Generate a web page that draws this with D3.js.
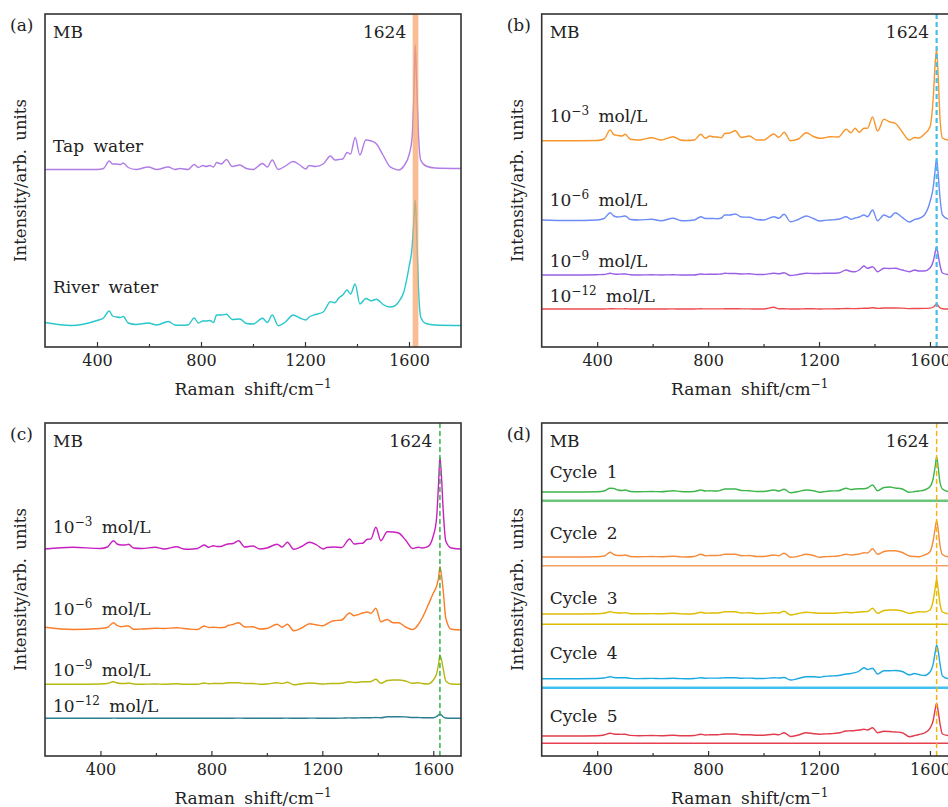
<!DOCTYPE html>
<html>
<head>
<meta charset="utf-8">
<script src="https://cdn.jsdelivr.net/npm/d3@7"></script>
<style>
  body { margin: 0; background: #fff; }
  svg text { font-family: "DejaVu Serif", "Liberation Serif", serif; fill: #222; }
</style>
</head>
<body>
<svg id="chart" width="948" height="807"></svg>
<script>
// Raman shift grid (cm^-1), shared by every spectrum
const shift = [200, 300, 400, 425, 447, 460, 475, 490, 501, 520,
  550, 597, 630, 674, 700, 719, 750, 774, 790, 807,
  820, 834, 848, 860, 878, 898, 920, 949, 975, 1000,
  1037, 1055, 1074, 1097, 1125, 1154, 1180, 1203, 1216, 1240,
  1270, 1298, 1315, 1330, 1345, 1362, 1375, 1393, 1411, 1434,
  1455, 1475, 1500, 1526, 1545, 1560, 1580, 1600, 1612, 1619,
  1624, 1629, 1636, 1645, 1665, 1700, 1800];

const xTicks = [400, 800, 1200, 1600];
const xMinorTicks = [600, 1000, 1400];

// (a) real water samples (offset intensities, arb. units)
const tapWater = [177.5, 177.5, 177.5, 178.5, 186, 183, 183, 182.5, 184, 179.5,
  177.5, 180, 177.5, 180, 177.5, 178.5, 177.5, 182.5, 179.5, 181.5,
  180.5, 181.5, 180, 184.5, 183, 187.5, 180.5, 182, 178.5, 177.5,
  183.5, 180, 187, 177.5, 181, 185.5, 182, 178, 181.5, 180.5,
  183, 191, 187, 187.5, 188, 194.5, 193, 209.5, 192, 207,
  206, 203, 192, 180.5, 178, 177, 181, 192, 210, 255,
  302, 268, 215, 187, 181, 179, 178.5];
const riverWater = [24.5, 21.5, 26.5, 29, 36, 31, 30, 29.5, 30.5, 24,
  22.5, 24, 22, 25.5, 22, 21.7, 22, 29, 24, 26,
  26, 26.5, 24.5, 32, 32, 32.7, 27.5, 28, 23.5, 23,
  28.7, 24.5, 32, 21.3, 25, 32, 29, 27, 30, 32.5,
  35, 45.3, 44.3, 49, 52, 57, 53, 63, 43, 48.5,
  46.3, 47.7, 42.5, 40, 41, 45, 55, 80, 100, 128,
  147, 118, 62, 30, 23.5, 22, 21.5];

// (b) concentration series
const bConc3 = [206.3, 206.3, 206.5, 208, 217, 212.5, 211.5, 211, 212.7, 207.7,
  207, 209.3, 207, 210.3, 207, 206.5, 207, 212.7, 208.7, 211,
  210, 210, 209.3, 213.5, 214, 216.3, 209.5, 211, 207, 207,
  213, 209.7, 214.7, 206.3, 208, 214.3, 210.5, 208.7, 209, 210.3,
  210, 217.7, 214.3, 218.7, 214.7, 218.7, 218.7, 230, 216, 227.7,
  225, 223.7, 215, 207, 209.5, 209, 213, 220, 250, 285,
  297.7, 275, 230, 209, 207, 206.5, 206.5];
const bConc6 = [127, 126.5, 127, 128.5, 134.3, 131, 130, 130.5, 131, 127.5,
  127, 127.7, 126.3, 128.7, 126.5, 126.3, 127, 130.3, 128.5, 128.5,
  128.5, 128.3, 129, 132, 132, 133, 130, 129.7, 127.5, 127,
  130.3, 128.7, 132.7, 125.3, 127.5, 131, 128.5, 126, 126.5, 127,
  127.7, 130.3, 127.7, 129, 130, 132, 130.3, 137, 126.3, 132,
  129.7, 134.3, 129.7, 125, 127.7, 128.5, 132, 145, 160, 178,
  187.7, 175, 150, 132, 128, 127, 127];
const bConc9 = [72, 72, 72.3, 72.5, 73.7, 73, 72.8, 73, 73, 72.3,
  72, 72.3, 72, 72.3, 72, 72, 72, 73, 72.6, 72.8,
  72.7, 72.8, 73, 73.7, 73.5, 73.5, 73, 73.2, 72.5, 72.5,
  73.7, 73.2, 74.3, 71.5, 72.5, 73.7, 73.5, 73.5, 73.7, 73.7,
  74, 77, 75.5, 75.3, 77, 81, 78.7, 80.3, 75.3, 78.7,
  78.5, 78.7, 77, 75.3, 77, 76, 76, 79, 86, 95,
  100.3, 93, 82, 74, 72.5, 72, 72];
const bConc12 = [38, 38, 38, 38, 38.3, 38.2, 38.1, 38.1, 38.2, 38,
  38, 38, 38, 38.1, 38, 38, 38, 38.2, 38.1, 38.1,
  38.1, 38.1, 38.1, 38.2, 38.2, 38.3, 38.1, 38.1, 38, 38,
  39.7, 38.2, 38.3, 38, 38, 38.3, 38.2, 38, 38.1, 38.1,
  38.2, 38.5, 38.4, 38.4, 38.5, 38.8, 38.7, 39.3, 38.6, 39,
  39, 39, 38.9, 38.4, 38.5, 38.5, 38.6, 38.9, 40, 41.8,
  43, 41.5, 39.2, 38.3, 38, 38, 38];

// (c) concentration series
const cConc3 = [207, 208.7, 207.5, 209, 215.3, 212, 211, 211, 211.7, 208,
  207.5, 208.7, 207, 209.3, 207, 206.7, 207.5, 211, 208.7, 210.3,
  209.5, 209.5, 211, 212, 212.5, 215.3, 209, 210, 207, 208,
  211.7, 209, 213.7, 206.7, 209.5, 213.7, 211, 207, 208.5, 209,
  208.5, 217, 212, 212.5, 212.7, 216.7, 217, 228.7, 215.3, 224.3,
  224, 223, 216, 207.5, 208.7, 208, 209.3, 220, 238, 272,
  298.7, 282, 245, 215, 208, 207, 207];
const cConc6 = [128.7, 126.5, 127.5, 128.5, 133.3, 130.5, 129.3, 130, 130, 126.7,
  127, 127.7, 127.5, 128.3, 127.5, 127, 126.5, 130, 128.5, 128.7,
  128.5, 128.3, 128.7, 130.5, 131.5, 133.3, 129, 129.3, 127, 127.5,
  131.7, 128.7, 131.7, 125.3, 128, 132.3, 131, 130.3, 132, 135.3,
  136, 143, 140.3, 141.5, 143, 144, 142.7, 147.7, 134.3, 136.5,
  133.3, 133.3, 129, 126.5, 131, 138, 150, 162.7, 170, 178,
  189.3, 182, 165, 138, 126.7, 126, 126];
const cConc9 = [71.7, 71.7, 72, 72.5, 74.3, 73, 72.5, 72.5, 73, 72,
  71.8, 72, 71.8, 72.2, 71.8, 71.7, 71.8, 73, 72.3, 72.5,
  72.5, 72.5, 72.7, 73.3, 73.3, 73.3, 72.5, 72.5, 71.8, 72,
  73.3, 72.5, 73.7, 71.3, 72.2, 73, 72.5, 72, 72.3, 72.5,
  72.8, 74.3, 73.5, 73.7, 74.3, 74.3, 74.5, 76.7, 72.7, 75.5,
  76, 76, 75, 72.7, 73.3, 72.5, 72, 76, 82.3, 92,
  101, 97, 87, 75, 72, 71.7, 71.7];
const cConc12 = [37.7, 37.7, 37.7, 37.7, 37.9, 37.8, 37.8, 37.8, 37.8, 37.7,
  37.7, 37.7, 37.7, 37.8, 37.7, 37.7, 37.7, 37.8, 37.7, 37.8,
  37.8, 37.8, 37.8, 37.8, 37.8, 37.9, 37.8, 37.8, 37.7, 37.7,
  37.8, 37.8, 37.9, 37.7, 37.7, 37.9, 37.8, 37.7, 37.8, 37.8,
  37.9, 38.1, 38, 38.1, 38.2, 38.3, 38.3, 38.5, 38.2, 39.2,
  39.3, 39.3, 39.1, 38.5, 38.5, 38.3, 38.2, 38.3, 39.5, 41,
  42, 41.2, 39, 38, 37.7, 37.7, 37.7];

// (d) recycling series and their reference levels
const cycle1 = [264, 264, 264.3, 265, 267.7, 267.5, 266, 265.5, 266, 264.5,
  264.2, 264.5, 264.3, 265.3, 264.5, 264.2, 264.5, 266, 265, 265.2,
  265, 265, 266, 267, 267, 267, 265.5, 265.3, 264.5, 264.5,
  266, 265, 266.7, 263.3, 264.5, 266, 265.3, 263.7, 264.2, 265,
  265.3, 267.7, 266.5, 267, 267.3, 267.3, 268, 271, 265.3, 268.5,
  269, 268, 267, 263.7, 264.5, 265, 266, 269.3, 278, 290,
  299.3, 290, 274, 267, 264.5, 264, 264];
const cycle2 = [199, 199, 199.3, 200, 203.7, 201.5, 200.5, 200.5, 201, 199.5,
  199.2, 199.5, 199.2, 199.7, 199.2, 199, 199.5, 201.7, 200.3, 200.5,
  200.5, 200.5, 201, 201.7, 201.7, 201.7, 200.3, 200.5, 199.5, 199.5,
  201, 200.3, 202.7, 198.7, 199.7, 201.7, 200.5, 198.7, 199.2, 199.5,
  200, 201.7, 201, 201.5, 202, 203.3, 203, 207.3, 201.7, 204.5,
  205.3, 205.3, 203.5, 200, 199.5, 199.3, 201, 204.3, 216, 228,
  235.3, 228, 211, 201.5, 199.2, 199, 199];
const cycle3 = [142, 142, 142.2, 142.7, 144.3, 143.5, 143, 143, 143.3, 142.3,
  142.2, 142.4, 142.2, 142.7, 142.2, 142, 142.3, 143.7, 142.8, 143,
  143, 143, 143.5, 144.3, 144.3, 144.3, 143, 143.2, 142.4, 142.5,
  143.3, 143, 144.7, 141, 142.5, 143.7, 143.2, 142.7, 142.7, 142.7,
  143, 143.7, 143.3, 143.6, 144, 144.3, 144.5, 147.7, 142.7, 145.5,
  146, 146, 145, 142.7, 143.5, 144.3, 144, 146, 156, 168,
  176.7, 168, 152.7, 144, 142.3, 142, 142];
const cycle4 = [77.3, 77.3, 77.5, 78, 79.3, 78.5, 78.3, 78.3, 78.3, 77.6,
  77.4, 77.6, 77.4, 77.7, 77.4, 77.3, 77.5, 78.3, 77.8, 77.9,
  77.9, 77.9, 78, 78.3, 78.2, 78.2, 77.8, 77.9, 77.5, 77.5,
  78.2, 78, 78.5, 76, 77.5, 79.3, 79.3, 78.8, 79.5, 80,
  80.5, 82, 82.5, 83.3, 85, 88.3, 86.5, 87.7, 82, 85.3,
  85.3, 85.5, 84.5, 81, 82.5, 81.5, 80.5, 84, 92.7, 104,
  111, 106, 92.7, 80, 77.5, 77.3, 77.3];
const cycle5 = [20, 20, 20.3, 21, 22.7, 22, 21.7, 21.6, 21.8, 20.6,
  20.3, 20.5, 20.3, 20.8, 20.3, 20.2, 20.5, 21.7, 21, 21.2,
  21.2, 21.3, 21.6, 22, 22, 22, 21.2, 21.3, 20.7, 20.8,
  21.7, 21.2, 23.3, 19.5, 21, 23.3, 22.3, 21.8, 22, 22.3,
  23, 25, 25.2, 25.5, 26, 26.7, 26, 28.3, 23.3, 24.7,
  24.5, 24, 23.3, 19.3, 20.5, 21.5, 23, 27.7, 36, 47,
  52.7, 46, 32.7, 22, 20.5, 20.2, 20.2];
const cycleLevels = [255.3, 190.3, 131.7, 68.3, 12.7];

const concLabels = ["−3", "−6", "−9", "−12"];
const cycleNames = ["Cycle 1", "Cycle 2", "Cycle 3", "Cycle 4", "Cycle 5"];

const W = 416, H = 333, FS = 17, TICK_FS = 16;
const svg = d3.select("#chart");
const defs = svg.append("defs");

const panels = [
  {id: "a", left: 45, top: 14, domain: [200, 1800],
   series: [{v: tapWater, c: "#b07de6"}, {v: riverWater, c: "#29c7cb"}],
   labels: [{t: "Tap water", y: 151.7}, {t: "River water", y: 292.7}],
   marker: {type: "band", c: "#f5a36a"}, peakGap: 9},
  {id: "b", left: 541.7, top: 14, domain: [200, 1700],
   series: [{v: bConc3, c: "#f8962c"}, {v: bConc6, c: "#6d8cf5"}, {v: bConc9, c: "#9b5fe6"}, {v: bConc12, c: "#ee4b4f"}],
   labels: [{sup: concLabels[0], y: 121.7}, {sup: concLabels[1], y: 205.7}, {sup: concLabels[2], y: 266.7}, {sup: concLabels[3], y: 301.7}],
   marker: {type: "dash", c: "#45bfe9", w: 2.2}, peakGap: 7.5},
  {id: "c", left: 45, top: 423, domain: [200, 1700],
   series: [{v: cConc3, c: "#c81fc0"}, {v: cConc6, c: "#fb7c26"}, {v: cConc9, c: "#b8b813"}, {v: cConc12, c: "#2a7f8f"}],
   labels: [{sup: concLabels[0], y: 532.7}, {sup: concLabels[1], y: 615}, {sup: concLabels[2], y: 676}, {sup: concLabels[3], y: 711.7}],
   marker: {type: "dash", c: "#33b24a", w: 1.5}, peakGap: 7.5},
  {id: "d", left: 541.7, top: 423, domain: [200, 1700],
   series: [{v: cycle1, c: "#3eb54d"}, {v: cycle2, c: "#f48c3c"}, {v: cycle3, c: "#dcbd00"}, {v: cycle4, c: "#1ca9e1"}, {v: cycle5, c: "#e23b4b"}],
   levels: [{c: "#6cc57a", w: 2.6}, {c: "#f5a060", w: 1.6}, {c: "#dcbd00", w: 1.6}, {c: "#40c0f0", w: 2.6}, {c: "#e84050", w: 1.6}],
   labels: cycleNames.map((t, i) => ({t: t, y: [478.3, 539.3, 604.3, 659.3, 722.3][i]})),
   marker: {type: "dash", c: "#f6b30a", w: 1.5}, peakGap: 7.5}
];

panels.forEach(drawPanel);

function drawPanel(p) {
  const g = svg.append("g").attr("transform", `translate(${p.left},${p.top})`);
  const x = d3.scaleLinear().domain(p.domain).range([0, W]);
  const y = d3.scaleLinear().domain([0, H]).range([H, 0]);

  defs.append("clipPath").attr("id", "clip-" + p.id)
    .append("rect").attr("width", W).attr("height", H);
  const plot = g.append("g").attr("clip-path", `url(#clip-${p.id})`);

  const line = d3.line()
    .x((d, i) => x(shift[i]))
    .y(d => y(d))
    .curve(d3.curveMonotoneX);

  // flat reference levels under each cycle
  if (p.levels) {
    p.levels.forEach((lv, i) => {
      plot.append("line")
        .attr("x1", x(p.domain[0])).attr("x2", x(p.domain[1]))
        .attr("y1", y(cycleLevels[i])).attr("y2", y(cycleLevels[i]))
        .attr("stroke", lv.c).attr("stroke-width", lv.w);
    });
  }

  p.series.forEach(s => {
    plot.append("path")
      .datum(s.v)
      .attr("d", line)
      .attr("fill", "none")
      .attr("stroke", s.c)
      .attr("stroke-width", 1.4)
      .attr("stroke-linejoin", "round");
  });

  // 1624 marker
  if (p.marker.type === "band") {
    plot.append("rect")
      .attr("x", x(1614)).attr("width", x(1636) - x(1614))
      .attr("y", 0).attr("height", H)
      .attr("fill", p.marker.c).attr("opacity", 0.72);
  } else {
    plot.append("line")
      .attr("x1", x(1624)).attr("x2", x(1624))
      .attr("y1", 0).attr("y2", H)
      .attr("stroke", p.marker.c).attr("stroke-width", p.marker.w)
      .attr("stroke-dasharray", "5,3");
  }

  // axes: inward major + minor ticks
  const axis = g.append("g").attr("transform", `translate(0,${H})`)
    .call(d3.axisBottom(x).tickValues(xTicks).tickFormat(d3.format("d"))
      .tickSizeInner(-5).tickSizeOuter(0).tickPadding(8));
  axis.attr("font-family", null).attr("font-size", TICK_FS);
  axis.select(".domain").remove();
  axis.selectAll("line").attr("stroke", "#333").attr("stroke-width", 1.2);
  axis.selectAll("text").attr("fill", "#222");

  const minor = g.append("g").attr("transform", `translate(0,${H})`)
    .call(d3.axisBottom(x).tickValues(xMinorTicks).tickSizeInner(-3).tickSizeOuter(0).tickFormat(""));
  minor.select(".domain").remove();
  minor.selectAll("line").attr("stroke", "#333").attr("stroke-width", 1.2);

  // frame
  g.append("rect").attr("width", W).attr("height", H)
    .attr("fill", "none").attr("stroke", "#333").attr("stroke-width", 1.6);

  // axis titles
  const xt = g.append("text")
    .attr("x", W / 2).attr("y", H + 48)
    .attr("text-anchor", "middle").attr("font-size", FS)
    .attr("word-spacing", 4);
  xt.append("tspan").text("Raman shift/cm");
  xt.append("tspan").attr("dy", -7).attr("font-size", 12).text("−1");

  g.append("text")
    .attr("transform", `translate(${-19},${H / 2}) rotate(-90)`)
    .attr("text-anchor", "middle").attr("font-size", 16.5)
    .attr("word-spacing", 3)
    .text("Intensity/arb. units");

  // panel letter, MB, peak position
  g.append("text").attr("x", -35).attr("y", 17).attr("font-size", FS).text(`(${p.id})`);
  g.append("text").attr("x", 8).attr("y", 24).attr("font-size", FS).text("MB");
  g.append("text").attr("x", x(1624) - p.peakGap).attr("y", 24)
    .attr("text-anchor", "end").attr("font-size", FS).text("1624");

  // spectrum labels
  p.labels.forEach(l => {
    const t = g.append("text").attr("x", 8).attr("y", l.y - p.top)
      .attr("font-size", FS).attr("word-spacing", 4);
    if (l.sup) {
      t.append("tspan").text("10");
      t.append("tspan").attr("dy", -7).attr("font-size", 12).text(l.sup);
      t.append("tspan").attr("dy", 7).text(" mol/L");
    } else {
      t.text(l.t);
    }
  });
}
</script>
</body>
</html>
